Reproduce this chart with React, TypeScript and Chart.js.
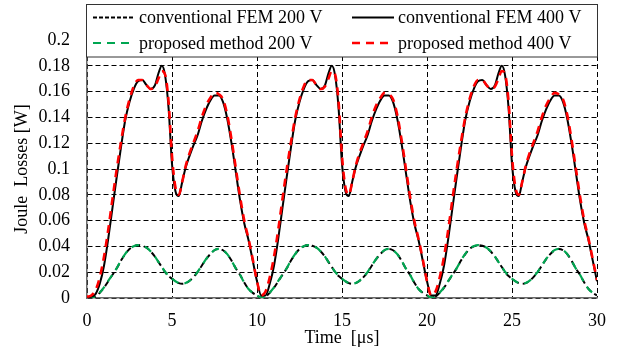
import React, { useEffect, useRef } from "react";
import { Chart, registerables } from "chart.js";
Chart.register(...registerables);

// Time axis [μs]
const TIME_US = [
  0, 0.25, 0.5, 0.75, 1, 1.25, 1.5, 1.75, 2, 2.25, 2.5, 2.75, 3, 3.25, 3.5, 3.75, 4, 4.2, 4.4, 4.6, 4.8, 5, 5.2, 5.4, 5.6, 5.8, 6, 6.25, 6.5, 6.75, 7, 7.25, 7.5, 7.75, 8, 8.25, 8.5, 8.75, 9, 9.25, 9.5, 9.75,
  10, 10.25, 10.5, 10.75, 11, 11.25, 11.5, 11.75, 12, 12.25, 12.5, 12.75, 13, 13.25, 13.5, 13.75, 14, 14.2, 14.4, 14.6, 14.8, 15, 15.2, 15.4, 15.6, 15.8, 16, 16.25, 16.5, 16.75, 17, 17.25, 17.5, 17.75, 18, 18.25, 18.5, 18.75, 19, 19.25, 19.5, 19.75,
  20, 20.25, 20.5, 20.75, 21, 21.25, 21.5, 21.75, 22, 22.25, 22.5, 22.75, 23, 23.25, 23.5, 23.75, 24, 24.2, 24.4, 24.6, 24.8, 25, 25.2, 25.4, 25.6, 25.8, 26, 26.25, 26.5, 26.75, 27, 27.25, 27.5, 27.75, 28, 28.25, 28.5, 28.75, 29, 29.25, 29.5, 29.75,
  30,
];

// conventional FEM 400 V (solid black)
const FEM_400 = [
  0, 0.001, 0.003, 0.011, 0.025, 0.046, 0.07, 0.094, 0.117, 0.138, 0.152, 0.162, 0.168, 0.169, 0.165, 0.162, 0.165, 0.174, 0.18, 0.172, 0.147, 0.104, 0.083, 0.079, 0.09, 0.101, 0.109, 0.118, 0.126, 0.137, 0.146, 0.153, 0.157, 0.157, 0.152, 0.139, 0.12, 0.098, 0.076, 0.058, 0.045, 0.029,
  0.013, 0.002, 0.002, 0.011, 0.025, 0.046, 0.07, 0.094, 0.117, 0.138, 0.152, 0.162, 0.168, 0.169, 0.165, 0.162, 0.165, 0.174, 0.18, 0.172, 0.147, 0.104, 0.083, 0.079, 0.09, 0.101, 0.109, 0.118, 0.126, 0.137, 0.146, 0.153, 0.157, 0.157, 0.152, 0.139, 0.12, 0.098, 0.076, 0.058, 0.045, 0.029,
  0.013, 0.002, 0.002, 0.011, 0.025, 0.046, 0.07, 0.094, 0.117, 0.138, 0.152, 0.162, 0.168, 0.169, 0.165, 0.162, 0.165, 0.174, 0.18, 0.172, 0.147, 0.104, 0.083, 0.079, 0.09, 0.101, 0.109, 0.118, 0.126, 0.137, 0.146, 0.153, 0.157, 0.157, 0.152, 0.139, 0.12, 0.098, 0.076, 0.058, 0.045, 0.029,
  0.013,
];

// proposed method 400 V (red dashed)
const PROP_400 = [
  0.001, 0.002, 0.006, 0.016, 0.032, 0.053, 0.077, 0.1, 0.121, 0.14, 0.154, 0.164, 0.169, 0.169, 0.165, 0.162, 0.164, 0.17, 0.176, 0.173, 0.152, 0.11, 0.086, 0.08, 0.09, 0.102, 0.111, 0.12, 0.129, 0.14, 0.149, 0.155, 0.159, 0.158, 0.154, 0.142, 0.123, 0.101, 0.079, 0.06, 0.046, 0.03,
  0.013, 0.002, 0.005, 0.016, 0.032, 0.053, 0.077, 0.1, 0.121, 0.14, 0.154, 0.164, 0.169, 0.169, 0.165, 0.162, 0.164, 0.17, 0.176, 0.173, 0.152, 0.11, 0.086, 0.08, 0.09, 0.102, 0.111, 0.12, 0.129, 0.14, 0.149, 0.155, 0.159, 0.158, 0.154, 0.142, 0.123, 0.101, 0.079, 0.06, 0.046, 0.03,
  0.013, 0.002, 0.005, 0.016, 0.032, 0.053, 0.077, 0.1, 0.121, 0.14, 0.154, 0.164, 0.169, 0.169, 0.165, 0.162, 0.164, 0.17, 0.176, 0.173, 0.152, 0.11, 0.086, 0.08, 0.09, 0.102, 0.111, 0.12, 0.129, 0.14, 0.149, 0.155, 0.159, 0.158, 0.154, 0.142, 0.123, 0.101, 0.079, 0.06, 0.046, 0.03,
  0.014,
];

// conventional FEM 200 V (black short dashes)
const FEM_200 = [
  0, 0.0002, 0.001, 0.004, 0.008, 0.013, 0.018, 0.023, 0.029, 0.034, 0.038, 0.04, 0.041, 0.0405, 0.039, 0.036, 0.032, 0.028, 0.024, 0.02, 0.017, 0.015, 0.013, 0.0115, 0.011, 0.0115, 0.013, 0.016, 0.02, 0.025, 0.03, 0.034, 0.037, 0.038, 0.037, 0.034, 0.029, 0.023, 0.018, 0.012, 0.007, 0.004,
  0.002, 0.0003, 0.001, 0.004, 0.008, 0.013, 0.018, 0.023, 0.029, 0.034, 0.038, 0.04, 0.041, 0.0405, 0.039, 0.036, 0.032, 0.028, 0.024, 0.02, 0.017, 0.015, 0.013, 0.0115, 0.011, 0.0115, 0.013, 0.016, 0.02, 0.025, 0.03, 0.034, 0.037, 0.038, 0.037, 0.034, 0.029, 0.023, 0.018, 0.012, 0.007, 0.004,
  0.002, 0.0003, 0.001, 0.004, 0.008, 0.013, 0.018, 0.023, 0.029, 0.034, 0.038, 0.04, 0.041, 0.0405, 0.039, 0.036, 0.032, 0.028, 0.024, 0.02, 0.017, 0.015, 0.013, 0.0115, 0.011, 0.0115, 0.013, 0.016, 0.02, 0.025, 0.03, 0.034, 0.037, 0.038, 0.037, 0.034, 0.029, 0.023, 0.018, 0.012, 0.007, 0.004,
  0.002,
];

// proposed method 200 V (green dashed)
const PROP_200 = [
  0, 0.0003, 0.0012, 0.0042, 0.0082, 0.0132, 0.0182, 0.0232, 0.0292, 0.0342, 0.0382, 0.0402, 0.041, 0.0405, 0.039, 0.036, 0.032, 0.028, 0.024, 0.0202, 0.0172, 0.015, 0.013, 0.0116, 0.0111, 0.0116, 0.0131, 0.0161, 0.0201, 0.0251, 0.0301, 0.0341, 0.0371, 0.0381, 0.037, 0.034, 0.029, 0.023, 0.018, 0.012, 0.007, 0.004,
  0.002, 0.0004, 0.0012, 0.0042, 0.0082, 0.0132, 0.0182, 0.0232, 0.0292, 0.0342, 0.0382, 0.0402, 0.041, 0.0405, 0.039, 0.036, 0.032, 0.028, 0.024, 0.0202, 0.0172, 0.015, 0.013, 0.0116, 0.0111, 0.0116, 0.0131, 0.0161, 0.0201, 0.0251, 0.0301, 0.0341, 0.0371, 0.0381, 0.037, 0.034, 0.029, 0.023, 0.018, 0.012, 0.007, 0.004,
  0.002, 0.0004, 0.0012, 0.0042, 0.0082, 0.0132, 0.0182, 0.0232, 0.0292, 0.0342, 0.0382, 0.0402, 0.041, 0.0405, 0.039, 0.036, 0.032, 0.028, 0.024, 0.0202, 0.0172, 0.015, 0.013, 0.0116, 0.0111, 0.0116, 0.0131, 0.0161, 0.0201, 0.0251, 0.0301, 0.0341, 0.0371, 0.0381, 0.037, 0.034, 0.029, 0.023, 0.018, 0.012, 0.007, 0.004,
  0.002,
];

const X_MIN = 0;
const X_MAX = 30;
const X_STEP = 5;
const Y_MIN = 0;
const Y_MAX = 0.2;
const Y_STEP = 0.02;

const X_TITLE = "Time  [μs]";
const Y_TITLE = "Joule  Losses [W]";

const LEGEND_ITEMS = [
  { label: "conventional FEM 200 V", color: "#000000", dash: [4, 2], width: 1.8, col: 0, row: 0 },
  { label: "conventional FEM 400 V", color: "#000000", dash: [], width: 2.2, col: 1, row: 0 },
  { label: "proposed method 200 V", color: "#00a651", dash: [8, 6], width: 2.2, col: 0, row: 1 },
  { label: "proposed method 400 V", color: "#ff0000", dash: [8, 6], width: 2.5, col: 1, row: 1 },
];

const FONT = "'Liberation Serif', 'Times New Roman', serif";

const toPoints = (ys: number[]) => TIME_US.map((t, i) => ({ x: t, y: ys[i] }));

export default function App() {
  const ref = useRef<HTMLCanvasElement | null>(null);

  useEffect(() => {
    if (!ref.current) return;

    const overlay = {
      id: "overlay",
      afterDraw(chart: any) {
        const { ctx, chartArea } = chart;
        ctx.save();
        // legend box
        const bx = chartArea.left - 0.5;
        const by = 4.5;
        const bw = chartArea.right - chartArea.left + 1;
        const bh = 52.5;
        ctx.fillStyle = "#ffffff";
        ctx.fillRect(bx, by, bw, bh);
        ctx.strokeStyle = "#333333";
        ctx.lineWidth = 1;
        ctx.setLineDash([]);
        ctx.strokeRect(bx, by, bw, bh);
        const colX = [93, 352];
        const rowY = [17.5, 43];
        ctx.font = `18px ${FONT}`;
        ctx.textBaseline = "middle";
        ctx.textAlign = "left";
        for (const it of LEGEND_ITEMS) {
          const x0 = colX[it.col];
          const y0 = rowY[it.row];
          ctx.beginPath();
          ctx.strokeStyle = it.color;
          ctx.lineWidth = it.width;
          ctx.setLineDash(it.dash);
          ctx.moveTo(x0, y0);
          ctx.lineTo(x0 + 42, y0);
          ctx.stroke();
          ctx.setLineDash([]);
          ctx.fillStyle = "#000000";
          ctx.fillText(it.label, x0 + 46, y0 + 1);
        }
        // axis titles
        ctx.fillStyle = "#000000";
        ctx.textAlign = "center";
        ctx.textBaseline = "middle";
        ctx.fillText(X_TITLE, (chartArea.left + chartArea.right) / 2, 338);
        ctx.translate(22, (chartArea.top + chartArea.bottom) / 2);
        ctx.rotate(-Math.PI / 2);
        ctx.fillText(Y_TITLE, 0, 0);
        ctx.restore();
      },
    };

    const chart = new Chart(ref.current, {
      type: "line",
      data: {
        datasets: [
          {
            label: LEGEND_ITEMS[3].label,
            data: toPoints(PROP_400),
            borderColor: "#ff0000",
            borderWidth: 2.6,
            borderDash: [8, 6],
            pointRadius: 0,
            cubicInterpolationMode: "monotone",
            order: 1,
          },
          {
            label: LEGEND_ITEMS[1].label,
            data: toPoints(FEM_400),
            borderColor: "#000000",
            borderWidth: 2,
            pointRadius: 0,
            cubicInterpolationMode: "monotone",
            order: 2,
          },
          {
            label: LEGEND_ITEMS[2].label,
            data: toPoints(PROP_200),
            borderColor: "#00a651",
            borderWidth: 2.2,
            borderDash: [8, 6],
            pointRadius: 0,
            cubicInterpolationMode: "monotone",
            order: 3,
          },
          {
            label: LEGEND_ITEMS[0].label,
            data: toPoints(FEM_200),
            borderColor: "#000000",
            borderWidth: 2,
            borderDash: [6, 4],
            borderDashOffset: 7,
            pointRadius: 0,
            cubicInterpolationMode: "monotone",
            order: 4,
          },
        ],
      },
      options: {
        responsive: false,
        animation: false,
        layout: { padding: { left: 0, right: 26, top: 40, bottom: 0 } },
        plugins: { legend: { display: false }, tooltip: { enabled: false }, title: { display: false } },
        scales: {
          x: {
            type: "linear",
            min: X_MIN,
            max: X_MAX,
            ticks: {
              stepSize: X_STEP,
              color: "#000000",
              font: { family: FONT, size: 18 },
              padding: 12,
              maxRotation: 0,
            },
            grid: { color: "#000000", lineWidth: 1, drawTicks: false },
            border: { display: true, color: "#6b6b6b", width: 1.5, dash: [5, 3] },
            afterFit(scale: any) {
              scale.height = 51;
            },
          },
          y: {
            type: "linear",
            min: Y_MIN,
            max: Y_MAX,
            ticks: {
              stepSize: Y_STEP,
              color: "#000000",
              font: { family: FONT, size: 18 },
              padding: 17,
              callback: (v: any) => String(Number(Number(v).toFixed(2))),
            },
            grid: { color: "#000000", lineWidth: 1, drawTicks: false },
            border: { display: true, color: "#6b6b6b", width: 1.5, dash: [5, 3] },
            afterFit(scale: any) {
              scale.width = 87;
            },
          },
        },
      },
      plugins: [overlay],
    } as any);

    return () => chart.destroy();
  }, []);

  return (
    <canvas
      ref={ref}
      width={623}
      height={349}
      style={{ position: "absolute", left: 0, top: 0, display: "block", width: 623, height: 349 }}
    />
  );
}
